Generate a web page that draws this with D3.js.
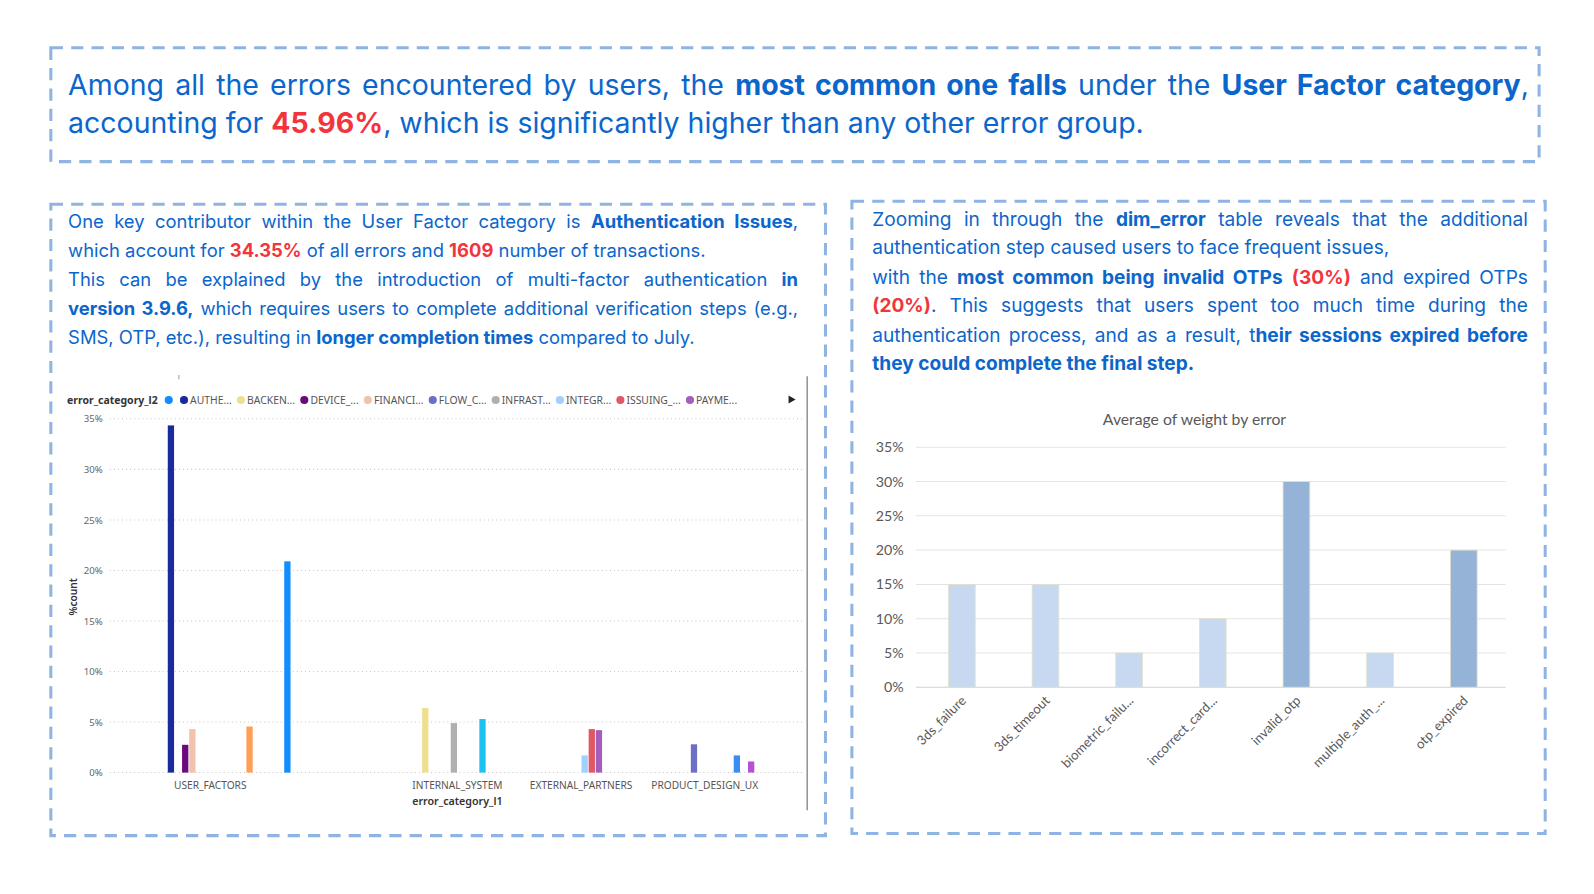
<!DOCTYPE html>
<html lang="en">
<head>
<meta charset="UTF-8" />
<title>User error categories</title>
<script src="https://d3js.org/d3.v7.min.js"></script>
<style>
  html,body{margin:0;padding:0;width:1594px;height:894px;overflow:hidden;background:#fff;font-family:Inter,sans-serif}
  #page{position:relative;width:1568px;height:880px;overflow:hidden;background:#fff;transform:scale(1.01658);transform-origin:0 0}
  #page svg{position:absolute;left:0;top:0}
  .tb{position:absolute;color:#0b66cc}
  .tb .j{text-align:justify;text-align-last:justify}
  .tb b{font-weight:700}
  .r{color:#f2353d;font-weight:700}
</style>
</head>
<body>
<div id="page">
  <div class="tb" style="left:67px;top:64px;width:1437px;font-size:28px;line-height:38px">
    <div class="j">Among all the errors encountered by users, the <b>most common one falls</b> under the <b>User Factor category</b>,</div>
    <div>accounting for <span class="r">45.96%</span>, which is significantly higher than any other error group.</div>
  </div>
  <div class="tb" style="left:67px;top:203px;width:718px;font-size:18.1px;line-height:28.5px">
    <div class="j">One key contributor within the User Factor category is <b>Authentication Issues</b>,</div>
    <div>which account for <span class="r">34.35%</span> of all errors and <span class="r">1609</span> number of transactions.</div>
    <div class="j">This can be explained by the introduction of multi-factor authentication <b>in</b></div>
    <div class="j"><b>version 3.9.6,</b> which requires users to complete additional verification steps (e.g.,</div>
    <div>SMS, OTP, etc.), resulting in <b>longer completion times</b> compared to July.</div>
  </div>
  <div class="tb" style="left:858px;top:202px;width:645px;font-size:18.8px;line-height:28.4px">
    <div class="j">Zooming in through the <b>dim_error</b> table reveals that the additional</div>
    <div>authentication step caused users to face frequent issues,</div>
    <div class="j">with the <b>most common being invalid OTPs</b> <span class="r">(30%)</span> and expired OTPs</div>
    <div class="j"><span class="r">(20%)</span>. This suggests that users spent too much time during the</div>
    <div class="j">authentication process, and as a result, t<b>heir sessions expired before</b></div>
    <div><b>they could complete the final step.</b></div>
  </div>
</div>
<script>
  // left chart: %count by error_category_l1 / error_category_l2
  const l1Categories = ["USER_FACTORS", "(Blank)", "INTERNAL_SYSTEM", "EXTERNAL_PARTNERS", "PRODUCT_DESIGN_UX"];
  const l2Series = ["(Blank)", "AUTHE", "BACKEN", "DEVICE_", "FINANCI", "FLOW_C", "INFRAST", "INTEGR", "ISSUING_", "PAYME",
                    "MORE_1", "MORE_2", "MORE_3", "MORE_4"];
  const l2Legend = ["", "AUTHE...", "BACKEN...", "DEVICE_...", "FINANCI...", "FLOW_C...", "INFRAST...", "INTEGR...", "ISSUING_...", "PAYME..."];
  const l2Colors = ["#118dff", "#1a2a9c", "#eedf90", "#6b0a7b", "#f2c2ac", "#6c70c4", "#b0b0b0", "#a0d0ff", "#e05864", "#a45dbb",
                    "#1dc2f2", "#3b8bf5", "#ff9e55", "#b452d2"];
  const pctCount = [
    ["USER_FACTORS", "AUTHE", 34.35], ["USER_FACTORS", "DEVICE_", 2.75], ["USER_FACTORS", "FINANCI", 4.3], ["USER_FACTORS", "MORE_3", 4.56],
    ["(Blank)", "(Blank)", 20.9],
    ["INTERNAL_SYSTEM", "BACKEN", 6.4], ["INTERNAL_SYSTEM", "INFRAST", 4.9], ["INTERNAL_SYSTEM", "MORE_1", 5.3],
    ["EXTERNAL_PARTNERS", "INTEGR", 1.7], ["EXTERNAL_PARTNERS", "ISSUING_", 4.3], ["EXTERNAL_PARTNERS", "PAYME", 4.2],
    ["PRODUCT_DESIGN_UX", "FLOW_C", 2.8], ["PRODUCT_DESIGN_UX", "MORE_2", 1.7], ["PRODUCT_DESIGN_UX", "MORE_4", 1.1]
  ];

  // right chart: average of weight by error
  const errors = ["3ds_failure", "3ds_timeout", "biometric_failu...", "incorrect_card...", "invalid_otp", "multiple_auth_...", "otp_expired"];
  const avgWeight = [15, 15, 5, 10, 30, 5, 20];
  const highlighted = ["invalid_otp", "otp_expired"];

  const svg = d3.select("#page").insert("svg", ":first-child").attr("width", 1568).attr("height", 880);

  const dashedBox = (x, y, w, h) => svg.append("rect")
    .attr("x", x).attr("y", y).attr("width", w).attr("height", h)
    .attr("fill", "none").attr("stroke", "#8fb4e3").attr("stroke-width", 3).attr("stroke-dasharray", "12,8");
  dashedBox(50, 47, 1464, 112);
  dashedBox(50, 201, 762, 621);
  dashedBox(838, 198, 682, 622);

  // ---- left chart
  const gL = svg.append("g").style("font-family", "'Noto Sans', sans-serif");
  const x0 = d3.scaleBand().domain(l1Categories).range([146, 754]);
  const x1 = d3.scaleBand().domain(l2Series).range([12, x0.bandwidth() - 12]).paddingInner(0.12);
  const yL = d3.scaleLinear().domain([0, 35]).range([760, 412]);
  const colorL = d3.scaleOrdinal().domain(l2Series).range(l2Colors);

  gL.append("g").selectAll("line").data(yL.ticks(7)).join("line")
    .attr("x1", 108).attr("x2", 790).attr("y1", d => yL(d)).attr("y2", d => yL(d))
    .attr("stroke", "#c8c8c8").attr("stroke-width", 1).attr("stroke-dasharray", "1,3");

  const axL = gL.append("g").attr("transform", "translate(104,0)")
    .call(d3.axisLeft(yL).ticks(7).tickSize(0).tickFormat(d => d + "%"));
  axL.select(".domain").remove();
  axL.selectAll("text").attr("fill", "#666").style("font-size", "9.5px").style("font-family", "'Noto Sans', sans-serif");

  const axB = gL.append("g").attr("transform", "translate(0,766)")
    .call(d3.axisBottom(x0).tickSize(0).tickFormat(d => d === "(Blank)" ? "" : d));
  axB.select(".domain").remove();
  axB.selectAll("text").attr("fill", "#555").style("font-size", "10px").style("font-family", "'Noto Sans', sans-serif");

  gL.append("g").selectAll("rect").data(pctCount).join("rect")
    .attr("x", d => x0(d[0]) + x1(d[1]))
    .attr("width", x1.bandwidth())
    .attr("y", d => yL(d[2]))
    .attr("height", d => yL(0) - yL(d[2]))
    .attr("fill", d => colorL(d[1]));

  gL.append("text").attr("x", 450).attr("y", 792).attr("text-anchor", "middle")
    .attr("fill", "#333").style("font-size", "10.5px").style("font-weight", 600).text("error_category_l1");
  gL.append("text").attr("transform", "translate(76,587) rotate(-90)").attr("text-anchor", "middle")
    .attr("fill", "#333").style("font-size", "10px").style("font-weight", 600).text("%count");

  // legend
  const leg = gL.append("g");
  leg.append("text").attr("x", 66).attr("y", 397).attr("fill", "#333")
    .style("font-size", "10.3px").style("font-weight", 700).text("error_category_l2");
  let lx = 166;
  l2Legend.forEach((lab, i) => {
    leg.append("circle").attr("cx", lx).attr("cy", 393.5).attr("r", 4).attr("fill", l2Colors[i]);
    const t = leg.append("text").attr("x", lx + 6).attr("y", 397).attr("fill", "#555").style("font-size", "10.2px").text(lab);
    lx += lab ? 6 + t.node().getComputedTextLength() + 9 : 15;
  });
  leg.append("path").attr("d", d3.symbol(d3.symbolTriangle, 28)()).attr("transform", "translate(778,393) rotate(90)").attr("fill", "#222");

  gL.append("line").attr("x1", 794).attr("x2", 794).attr("y1", 370).attr("y2", 797).attr("stroke", "#777").attr("stroke-width", 1.2);
  gL.append("line").attr("x1", 176).attr("x2", 176).attr("y1", 369).attr("y2", 373).attr("stroke", "#999");

  // ---- right chart
  const gR = svg.append("g").style("font-family", "Lato, sans-serif");
  const xR = d3.scaleBand().domain(errors).range([905, 1481]).paddingInner(0.68).paddingOuter(0.34);
  const yR = d3.scaleLinear().domain([0, 35]).range([676, 440]);

  gR.append("g").selectAll("line").data(yR.ticks(7)).join("line")
    .attr("x1", 901).attr("x2", 1481).attr("y1", d => yR(d)).attr("y2", d => yR(d))
    .attr("stroke", d => d === 0 ? "#d0d0d0" : "#e3e3e3").attr("stroke-width", 1);

  const ayR = gR.append("g").attr("transform", "translate(892,0)")
    .call(d3.axisLeft(yR).ticks(7).tickSize(0).tickFormat(d => d + "%"));
  ayR.select(".domain").remove();
  ayR.selectAll("text").attr("fill", "#595959").style("font-size", "14px").style("font-family", "Lato, sans-serif");

  gR.append("g").selectAll("rect").data(errors).join("rect")
    .attr("x", d => xR(d)).attr("width", xR.bandwidth())
    .attr("y", (d, i) => yR(avgWeight[i])).attr("height", (d, i) => yR(0) - yR(avgWeight[i]))
    .attr("fill", d => highlighted.includes(d) ? "#95b3d7" : "#c6d9f1")
    .attr("stroke", "#e4e1cc").attr("stroke-width", 0.8);

  gR.append("g").selectAll("text").data(errors).join("text")
    .attr("transform", d => `translate(${xR(d) + xR.bandwidth() / 2 + 5},690) rotate(-45)`)
    .attr("text-anchor", "end").attr("fill", "#595959").style("font-size", "13px").text(d => d);

  gR.append("text").attr("x", 1175).attr("y", 418).attr("text-anchor", "middle")
    .attr("fill", "#595959").style("font-size", "15.5px").text("Average of weight by error");
</script>
</body>
</html>
